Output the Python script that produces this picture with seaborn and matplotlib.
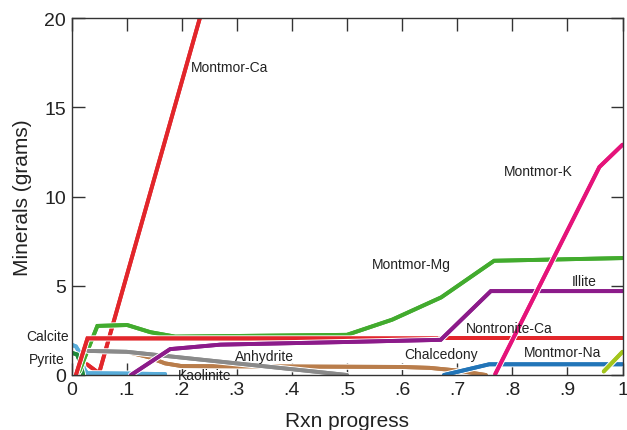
import matplotlib
matplotlib.use('Agg')
import pandas as pd
import matplotlib.pyplot as plt
import seaborn as sns
from matplotlib import patheffects

# reaction path: mineral masses (grams) vs reaction progress
kaolinite_x = [0.0, 0.008, 0.016, 0.022, 0.028, 0.10, 0.17]
kaolinite_y = [1.7, 1.6, 1.2, 0.4, 0.1, 0.08, 0.05]

pyrite_x = [0.0, 0.010, 0.016, 0.021]
pyrite_y = [1.25, 1.15, 0.7, 0.0]

calcite_x = [0.008, 0.029, 0.67]
calcite_y = [0.0, 2.05, 2.05]

nontronite_x = [0.67, 1.0]
nontronite_y = [2.05, 2.05]

montmor_ca_x = [0.028, 0.050, 0.233, 0.30]
montmor_ca_y = [0.6, 0.1, 20.0, 27.3]

montmor_mg_x = [0.014, 0.047, 0.101, 0.143, 0.188, 0.50, 0.582, 0.671, 0.767, 1.0]
montmor_mg_y = [0.2, 2.75, 2.8, 2.4, 2.15, 2.25, 3.1, 4.35, 6.4, 6.55]

anhydrite_x = [0.03, 0.10, 0.50]
anhydrite_y = [1.35, 1.3, 0.0]

chalcedony_x = [0.03, 0.10, 0.14, 0.17, 0.20, 0.60, 0.65, 0.70, 0.752]
chalcedony_y = [1.3, 1.3, 1.0, 0.65, 0.5, 0.45, 0.4, 0.25, 0.0]

illite_x = [0.108, 0.179, 0.27, 0.50, 0.67, 0.761, 1.0]
illite_y = [0.0, 1.45, 1.7, 1.85, 1.97, 4.7, 4.7]

montmor_na_x = [0.676, 0.758, 1.0]
montmor_na_y = [0.0, 0.6, 0.6]

montmor_k_x = [0.769, 0.958, 1.0]
montmor_k_y = [0.05, 11.65, 12.9]

lime_x = [0.966, 1.0]
lime_y = [0.2, 1.3]

series = {
    'Chalcedony': (chalcedony_x, chalcedony_y),
    'Montmor-Ca': (montmor_ca_x, montmor_ca_y),
    'Kaolinite': (kaolinite_x, kaolinite_y),
    'Pyrite': (pyrite_x, pyrite_y),
    'Montmor-Mg': (montmor_mg_x, montmor_mg_y),
    'Anhydrite': (anhydrite_x, anhydrite_y),
    'Calcite': (calcite_x, calcite_y),
    'Nontronite-Ca': (nontronite_x, nontronite_y),
    'Illite': (illite_x, illite_y),
    'Montmor-Na': (montmor_na_x, montmor_na_y),
    'Montmor-K': (montmor_k_x, montmor_k_y),
    'Other': (lime_x, lime_y),
}

colores = {
    'Chalcedony': '#b97d4b',
    'Montmor-Ca': '#e2262b',
    'Kaolinite': '#58acd9',
    'Pyrite': '#1f8a3a',
    'Montmor-Mg': '#42ab2e',
    'Anhydrite': '#8a8a8a',
    'Calcite': '#e2262b',
    'Nontronite-Ca': '#e2262b',
    'Illite': '#8c1b8a',
    'Montmor-Na': '#2275b8',
    'Montmor-K': '#e5137a',
    'Other': '#a3c51d',
}

# etiquetas: (texto, x, y, alineacion)
labels = [
    ('Montmor-Ca', 0.217, 17.25, 'left'),
    ('Montmor-K', 0.785, 11.43, 'left'),
    ('Montmor-Mg', 0.546, 6.2, 'left'),
    ('Illite', 0.908, 5.25, 'left'),
    ('Nontronite-Ca', 0.716, 2.63, 'left'),
    ('Montmor-Na', 0.821, 1.29, 'left'),
    ('Chalcedony', 0.604, 1.18, 'left'),
    ('Anhydrite', 0.297, 1.06, 'left'),
    ('Kaolinite', 0.193, 0.0, 'left'),
    ('Calcite', -0.004, 2.18, 'right'),
    ('Pyrite', -0.013, 0.9, 'right'),
]

xticks = [0, 0.1, 0.2, 0.3, 0.4, 0.5, 0.6, 0.7, 0.8, 0.9, 1.0]
xticklabels = ['0', '.1', '.2', '.3', '.4', '.5', '.6', '.7', '.8', '.9', '1']
yticks = [0, 5, 10, 15, 20]

rows = []
for name, (xs, ys) in series.items():
    for i, (x, y) in enumerate(zip(xs, ys)):
        rows.append({'mineral': name, 'orden': i, 'progress': x, 'grams': y})
df = pd.DataFrame(rows)

sns.set_theme(style='ticks')
plt.rcParams['font.family'] = ['Liberation Sans', 'DejaVu Sans']

fig = plt.figure(figsize=(6.27, 4.31), dpi=100)
ax = fig.add_axes([71.5 / 627, 1 - 376 / 431, 551 / 627, 357 / 431])

sns.lineplot(data=df, x='progress', y='grams', hue='mineral', palette=colores,
             hue_order=list(series.keys()), sort=False, estimator=None,
             linewidth=2.8, legend=False, ax=ax)
for line in ax.get_lines():
    line.set_path_effects([patheffects.withStroke(linewidth=4.4, foreground='white'),
                           patheffects.Normal()])
    line.set_solid_joinstyle('miter')

for text, x, y, ha in labels:
    ax.text(x, y, text, ha=ha, va='center', fontsize=10, color='#222222')

ax.set_xlim(0, 1)
ax.set_ylim(0, 20)
ax.set_xticks(xticks)
ax.set_xticklabels(xticklabels)
ax.set_yticks(yticks)
ax.tick_params(direction='in', length=9, width=1, top=True, right=True,
               labelsize=14, pad=4, color='#333333', labelcolor='#222222')
for s in ax.spines.values():
    s.set_linewidth(1)
    s.set_color('#333333')
ax.set_xlabel('Rxn progress', fontsize=15, labelpad=10, color='#222222')
ax.set_ylabel('Minerals (grams)', fontsize=15, labelpad=9, color='#222222')

fig.savefig('out.png', dpi=100)
